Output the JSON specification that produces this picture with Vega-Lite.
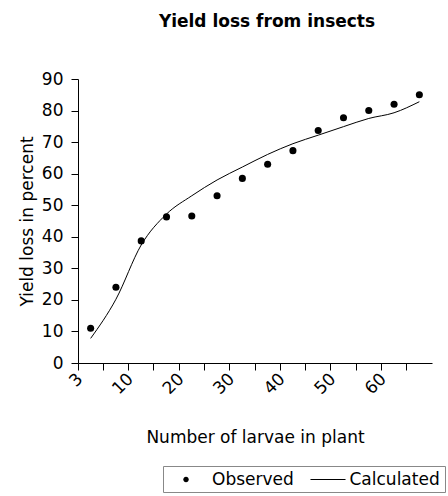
{
  "$schema": "https://vega.github.io/schema/vega-lite/v6.json",
  "autosize": "none",
  "padding": {"left": 78, "top": 79, "right": 16, "bottom": 133},
  "width": 354,
  "height": 284,
  "background": "white",
  "config": {"view": {"stroke": null}, "font": "DejaVu Sans"},
  "title": {"text": "Yield loss from insects", "font": "DejaVu Sans", "fontSize": 17, "fontWeight": "bold", "anchor": "middle", "dx": 12, "offset": 39, "color": "black"},
  "data": {"values": [
    {"n": "3", "observed": 11.0, "calculated": 7.8},
    {"n": "5", "observed": 24.0, "calculated": 20.2},
    {"n": "10", "observed": 38.7, "calculated": 37.4},
    {"n": "15", "observed": 46.3, "calculated": 47.2},
    {"n": "20", "observed": 46.6, "calculated": 53.0},
    {"n": "25", "observed": 53.0, "calculated": 58.0},
    {"n": "30", "observed": 58.5, "calculated": 62.1},
    {"n": "35", "observed": 63.0, "calculated": 66.1},
    {"n": "40", "observed": 67.3, "calculated": 69.5},
    {"n": "45", "observed": 73.7, "calculated": 72.2},
    {"n": "50", "observed": 77.7, "calculated": 74.9},
    {"n": "55", "observed": 80.0, "calculated": 77.5},
    {"n": "60", "observed": 82.0, "calculated": 79.3},
    {"n": "65", "observed": 85.0, "calculated": 82.8}
  ]},
  "encoding": {
    "x": {"field": "n", "type": "ordinal", "sort": null,
      "scale": {"type": "band", "paddingInner": 0, "paddingOuter": 0},
      "axis": {"title": "Number of larvae in plant", "bandPosition": 0, "labelAngle": -45,
        "labelAlign": "right", "labelBaseline": "middle", "labelOffset": -10.5,
        "labelExpr": "indexof(['3','10','20','30','40','50','60'], datum.label) >= 0 ? datum.label : ''",
        "labelFont": "DejaVu Sans", "labelFontSize": 17, "labelColor": "black", "labelPadding": 6,
        "titleFont": "DejaVu Sans", "titleFontSize": 17, "titleFontWeight": "normal", "titleColor": "black", "titlePadding": 33,
        "tickSize": 7, "tickColor": "black", "domainColor": "black", "grid": false}
    },
    "y": {"type": "quantitative",
      "scale": {"domain": [0, 90]},
      "axis": {"title": "Yield loss in percent", "values": [0,10,20,30,40,50,60,70,80,90], "labelOverlap": false,
        "labelFont": "DejaVu Sans", "labelFontSize": 17, "labelColor": "black", "labelPadding": 8,
        "titleFont": "DejaVu Sans", "titleFontSize": 17, "titleFontWeight": "normal", "titleColor": "black", "titlePadding": 5,
        "tickSize": 7, "tickColor": "black", "domainColor": "black", "grid": false}
    }
  },
  "layer": [
    {
      "mark": {"type": "line", "color": "black", "strokeWidth": 1, "interpolate": "monotone"},
      "encoding": {
        "y": {"field": "calculated"}
      }
    },
    {
      "mark": {"type": "point", "filled": true, "color": "black", "opacity": 1, "size": 50},
      "encoding": {
        "y": {"field": "observed"}
      }
    },
    {
      "mark": {"type": "point", "filled": true, "color": "black", "opacity": 0},
      "encoding": {
        "y": {"field": "observed"},
        "shape": {"datum": "Observed", "type": "nominal",
          "scale": {"domain": ["Observed", "Calculated"], "range": ["M0.85,0A0.34,0.34,0,1,1,1.53,0A0.34,0.34,0,1,1,0.85,0Z", "M-0.44,-0.065L3.94,-0.065L3.94,0.065L-0.44,0.065Z"]},
          "legend": {"title": null, "orient": "none", "legendX": 85, "legendY": 387, "direction": "horizontal",
            "padding": 4.5, "strokeColor": "#888888", "fillColor": "white",
            "symbolSize": 256, "symbolFillColor": "black", "symbolOpacity": 1,
            "labelFont": "DejaVu Sans", "labelFontSize": 17, "labelColor": "black", "labelOffset": 26.5, "columnPadding": 10.5
          }
        }
      }
    }
  ]
}
